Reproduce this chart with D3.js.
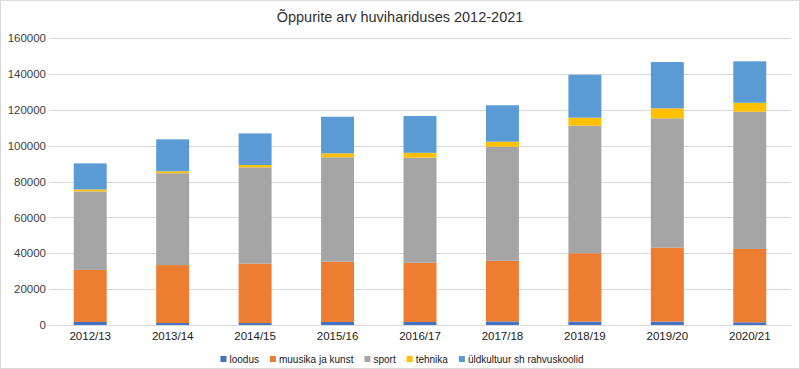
<!DOCTYPE html>
<html>
<head>
<meta charset="utf-8">
<script src="https://cdn.jsdelivr.net/npm/d3@7"></script>
<style>
  body { margin: 0; background: #fff; }
  svg { display: block; font-family: "Liberation Sans", Arial, sans-serif; }
</style>
</head>
<body>
<div id="chart"></div>
<script>
const years = ['2012/13', '2013/14', '2014/15', '2015/16', '2016/17', '2017/18', '2018/19', '2019/20', '2020/21'];
const seriesNames = ['loodus', 'muusika ja kunst', 'sport', 'tehnika', 'üldkultuur sh rahvuskoolid'];
const colors = ['#4472C4', '#ED7D31', '#A5A5A5', '#FFC000', '#5B9BD5'];

const loodus = [1700, 1100, 1100, 1700, 1700, 2000, 1900, 1900, 1500];
const muusika = [29000, 32300, 33100, 33600, 33000, 33800, 38100, 41200, 40900];
const sport = [43800, 51200, 53700, 58200, 58600, 63600, 71100, 72100, 76500];
const tehnika = [1100, 1100, 1300, 2200, 2700, 2800, 4500, 5600, 5000];
const yldkultuur = [14500, 17800, 17600, 20400, 20500, 20300, 23900, 25800, 23100];
const yTicks = [0, 20000, 40000, 60000, 80000, 100000, 120000, 140000, 160000];

const width = 800;
const height = 369;
const margin = { top: 38, right: 9, bottom: 44, left: 49 };

const allSeries = [loodus, muusika, sport, tehnika, yldkultuur];
const rows = years.map((y, i) => {
  const row = { year: y };
  seriesNames.forEach((name, k) => { row[name] = allSeries[k][i]; });
  return row;
});

const stacked = d3.stack().keys(seriesNames)(rows);

const svg = d3.select('#chart').append('svg')
  .attr('width', width)
  .attr('height', height);

svg.append('rect')
  .attr('x', 0.5).attr('y', 0.5)
  .attr('width', width - 1).attr('height', height - 1)
  .attr('fill', '#fff')
  .attr('stroke', '#d9d9d9');

const x = d3.scaleBand()
  .domain(years)
  .range([margin.left, width - margin.right])
  .paddingInner(0.6)
  .paddingOuter(0.3);

const y = d3.scaleLinear()
  .domain([0, 160000])
  .range([height - margin.bottom, margin.top]);

// gridlines
svg.append('g')
  .selectAll('line')
  .data(yTicks)
  .enter().append('line')
  .attr('x1', margin.left)
  .attr('x2', width - margin.right)
  .attr('y1', d => Math.round(y(d)) + 0.5)
  .attr('y2', d => Math.round(y(d)) + 0.5)
  .attr('stroke', '#d9d9d9')
  .attr('stroke-width', 1);

// y labels
const yAxis = d3.axisLeft(y).tickValues(yTicks).tickSize(0).tickPadding(3).tickFormat(d3.format('d'));
svg.append('g')
  .attr('transform', `translate(${margin.left},0)`)
  .call(yAxis)
  .call(g => g.select('.domain').remove())
  .selectAll('text')
  .attr('fill', '#404040')
  .attr('font-size', 11.5)
  .attr('font-family', '"Liberation Sans", Arial, sans-serif');

// bars
svg.append('g')
  .selectAll('g')
  .data(stacked)
  .enter().append('g')
  .attr('fill', (d, i) => colors[i])
  .selectAll('rect')
  .data(d => d)
  .enter().append('rect')
  .attr('x', d => x(d.data.year))
  .attr('width', x.bandwidth())
  .attr('y', d => y(d[1]))
  .attr('height', d => y(d[0]) - y(d[1]));

// x labels
const xAxis = d3.axisBottom(x).tickSize(0).tickPadding(7);
svg.append('g')
  .attr('transform', `translate(0,${height - margin.bottom})`)
  .call(xAxis)
  .call(g => g.select('.domain').remove())
  .selectAll('text')
  .attr('fill', '#202020')
  .attr('font-size', 11.5)
  .attr('font-family', '"Liberation Sans", Arial, sans-serif');

// title
svg.append('text')
  .attr('x', 400)
  .attr('y', 22)
  .attr('text-anchor', 'middle')
  .attr('fill', '#303030')
  .attr('font-size', 14.5)
  .text('Õppurite arv huvihariduses 2012-2021');

// legend, laid out from measured text widths and centred
const legend = svg.append('g');
const items = seriesNames.map((name, i) => {
  const g = legend.append('g');
  g.append('rect')
    .attr('x', 0).attr('y', -3)
    .attr('width', 6).attr('height', 6)
    .attr('fill', colors[i]);
  const t = g.append('text')
    .attr('x', 9)
    .attr('y', 4)
    .attr('fill', '#202020')
    .attr('font-size', 10)
    .text(name);
  return { g, w: 9 + t.node().getComputedTextLength() };
});
const gap = 11;
const total = d3.sum(items, d => d.w) + gap * (items.length - 1);
let lx = 402 - total / 2;
items.forEach(it => {
  it.g.attr('transform', `translate(${lx},359)`);
  lx += it.w + gap;
});
</script>
</body>
</html>
